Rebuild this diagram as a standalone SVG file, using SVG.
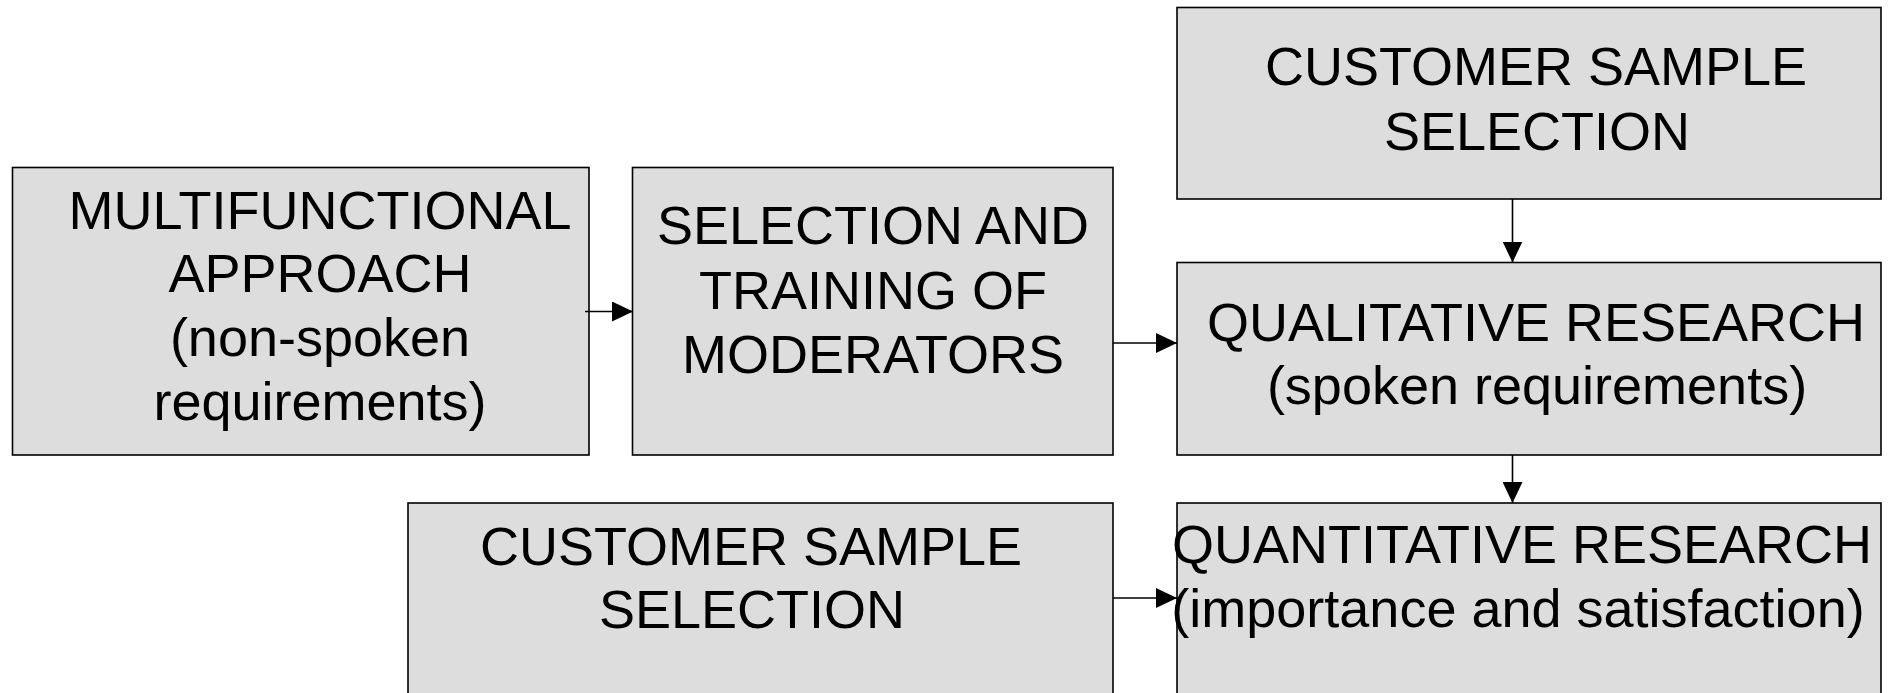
<svg xmlns="http://www.w3.org/2000/svg" width="1888" height="693" viewBox="0 0 1888 693">
  <style>
    .box { fill: #dddddd; stroke: #000000; stroke-width: 1.6; }
    .lbl { font-family: "Liberation Sans", Arial, sans-serif; font-size: 54px; fill: #000000; text-anchor: middle; }
    .conn { stroke: #000000; stroke-width: 1.6; fill: none; marker-end: url(#head); }
  </style>
  <defs>
    <marker id="head" markerUnits="userSpaceOnUse" markerWidth="21" markerHeight="20" refX="21" refY="10" orient="auto">
      <path d="M0,0 L21,10 L0,20 Z" fill="#000000"/>
    </marker>
  </defs>
  <rect width="1888" height="693" fill="#ffffff"/>

  <g id="multifunctional-approach">
    <rect class="box" x="12.5" y="167.5" width="576.5" height="287.5"/>
    <text class="lbl" x="320" y="229">MULTIFUNCTIONAL</text>
    <text class="lbl" x="320" y="292">APPROACH</text>
    <text class="lbl" x="320" y="356">(non-spoken</text>
    <text class="lbl" x="320" y="420">requirements)</text>
  </g>

  <g id="moderators">
    <rect class="box" x="632.5" y="167.5" width="480.5" height="287.5"/>
    <text class="lbl" x="873" y="244">SELECTION AND</text>
    <text class="lbl" x="873" y="309">TRAINING OF</text>
    <text class="lbl" x="873" y="373">MODERATORS</text>
  </g>

  <g id="sample-selection-top">
    <rect class="box" x="1177" y="7.5" width="704" height="191.5"/>
    <text class="lbl" x="1536" y="85">CUSTOMER SAMPLE</text>
    <text class="lbl" x="1537" y="150">SELECTION</text>
  </g>

  <g id="qualitative-research">
    <rect class="box" x="1177" y="262.5" width="704" height="192.5"/>
    <text class="lbl" x="1536" y="341">QUALITATIVE RESEARCH</text>
    <text class="lbl" x="1537" y="404">(spoken requirements)</text>
  </g>

  <g id="sample-selection-bottom">
    <rect class="box" x="408" y="503" width="705" height="200"/>
    <text class="lbl" x="751" y="565">CUSTOMER SAMPLE</text>
    <text class="lbl" x="752" y="628">SELECTION</text>
  </g>

  <g id="quantitative-research">
    <rect class="box" x="1177" y="503" width="704" height="200"/>
    <text class="lbl" x="1522" y="563">QUANTITATIVE RESEARCH</text>
    <text class="lbl" x="1518" y="627">(importance and satisfaction)</text>
  </g>

  <g id="connectors">
    <line class="conn" x1="585" y1="311.5" x2="633" y2="311.5"/>
    <line class="conn" x1="1113" y1="343" x2="1177" y2="343"/>
    <line class="conn" x1="1512.5" y1="199" x2="1512.5" y2="262.5"/>
    <line class="conn" x1="1512.5" y1="455" x2="1512.5" y2="503"/>
    <line class="conn" x1="1113" y1="598" x2="1177" y2="598"/>
  </g>
</svg>
